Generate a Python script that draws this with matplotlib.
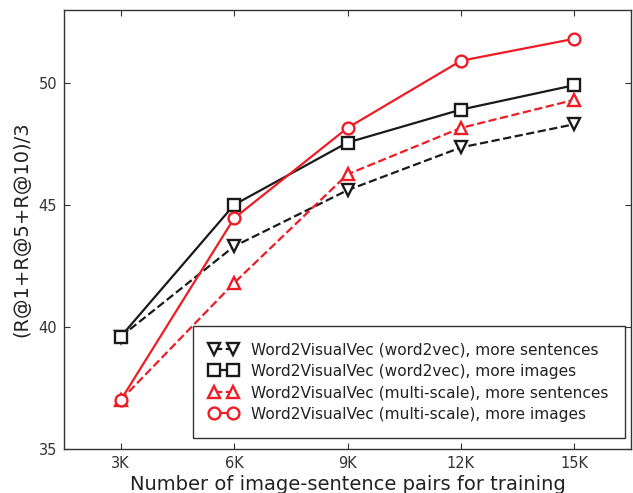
import matplotlib
matplotlib.use("Agg")
import matplotlib.pyplot as plt

# training set size (thousands of image-sentence pairs)
pairs_k = [3, 6, 9, 12, 15]
xtick_labels = ["3K", "6K", "9K", "12K", "15K"]

w2v_sent = [39.6, 43.3, 45.6, 47.35, 48.3]
w2v_img = [39.6, 45.0, 47.55, 48.9, 49.9]
ms_sent = [37.0, 41.8, 46.25, 48.15, 49.3]
ms_img = [37.0, 44.45, 48.15, 50.9, 51.8]

BLACK = "#1a1a1a"
RED = "#ee1c25"

fig = plt.figure(figsize=(6.33, 4.93), dpi=100)
ax = fig.add_axes([64/633, 44/493, 567/633, 439.5/493])

common = dict(lw=1.6, ms=8.5, mew=1.7, mfc="white")
ax.plot(pairs_k, w2v_sent, ls="--", marker="v", color=BLACK,
        label="Word2VisualVec (word2vec), more sentences", **common)
ax.plot(pairs_k, w2v_img, ls="-", marker="s", color=BLACK,
        label="Word2VisualVec (word2vec), more images", **common)
ax.plot(pairs_k, ms_sent, ls="--", marker="^", color=RED,
        label="Word2VisualVec (multi-scale), more sentences", **common)
ax.plot(pairs_k, ms_img, ls="-", marker="o", color=RED,
        label="Word2VisualVec (multi-scale), more images", **common)

ax.set_xlim(1.5, 16.5)
ax.set_ylim(35, 53)
ax.set_xticks(pairs_k)
ax.set_xticklabels(xtick_labels)
ax.set_yticks([35, 40, 45, 50])
ax.tick_params(direction="in", top=True, right=True, labelsize=10.5,
               colors="#333333", length=4, pad=5)
for s in ax.spines.values():
    s.set_color("#333333")
    s.set_linewidth(1.0)

ax.set_xlabel("Number of image-sentence pairs for training", fontsize=14,
              color="#222222", labelpad=3)
ax.set_ylabel("(R@1+R@5+R@10)/3", fontsize=14, color="#222222", labelpad=5)

leg = ax.legend(loc="lower right", bbox_to_anchor=(0.989, 0.025),
                borderaxespad=0, fontsize=11.1, numpoints=2, fancybox=False,
                framealpha=1, edgecolor="#333333", borderpad=1.05,
                handlelength=1.8, handletextpad=0.9, labelspacing=0.42)
leg.get_frame().set_linewidth(1.0)
for t in leg.get_texts():
    t.set_color("#222222")

fig.savefig("out.png", dpi=100)
